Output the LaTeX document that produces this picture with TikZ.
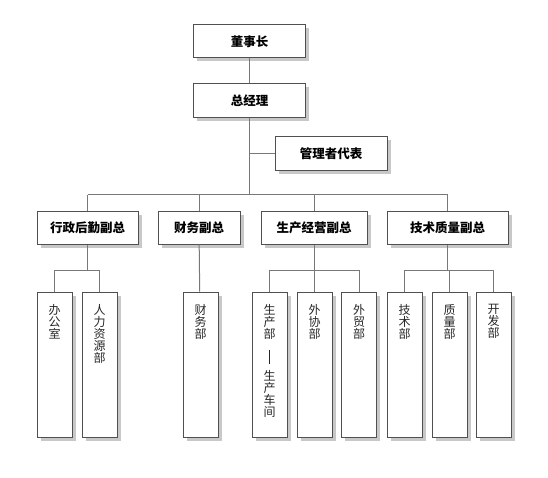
\documentclass[tikz,border=0pt]{standalone}
\usepackage{fontspec}
\newfontfamily\cjk{Noto Sans CJK SC}
\usetikzlibrary{shadows}
\definecolor{boxgray}{RGB}{80,80,80}
\definecolor{linegray}{RGB}{120,120,120}
\definecolor{shadowgray}{RGB}{200,200,200}
\newcommand{\vtext}[1]{\parbox[t][145pt][t]{35pt}{\vspace*{12pt}\centering #1}}
\tikzset{
	post/.style={draw=boxgray, fill=white, line width=1pt, inner sep=0, minimum height=33,
		font=\cjk\bfseries\fontsize{12.5}{14}\selectfont,
		drop shadow={shadow xshift=3.5pt, shadow yshift=-3.5pt, fill=shadowgray, opacity=1}},
	dept/.style={draw=boxgray, fill=white, line width=1pt, inner sep=0, minimum width=35,
		text=black!85, font=\cjk\fontsize{12}{12}\selectfont,
		drop shadow={shadow xshift=3.5pt, shadow yshift=-3.5pt, fill=shadowgray, opacity=1}},
	link/.style={draw=linegray, line width=1pt}
}
\begin{document}
\begin{tikzpicture}[x=1pt,y=-1pt]
	\useasboundingbox (0,0) rectangle (548,478);
	
	%top---------------------------------------
		\node[post, minimum width=112] (dsz) at (249.5,41.5) {董事长}; %chairman
		\node[post, minimum width=112, minimum height=34] (zjl) at (249.5,101) {总经理}; %general manager
		\node[post, minimum width=112, minimum height=34] (glz) at (331,154) {管理者代表}; %representative
		
		%lines
		\coordinate (bus) at (zjl.south |- 0,195);
		\draw[link] (dsz) -- (zjl);
		\draw[link] (zjl) -- (bus);
		\draw[link] (zjl.south |- glz.west) -- (glz.west);
	
	%vice presidents----------------------------
		\node[post, minimum width=101, minimum height=32] (xz) at (87.5,228) {行政后勤副总};
		\node[post, minimum width=82, minimum height=32] (cw) at (199,228) {财务副总};
		\node[post, minimum width=106, minimum height=32] (sc) at (314,228) {生产经营副总};
		\node[post, minimum width=121, minimum height=32] (js) at (447.5,228) {技术质量副总};
		
		%lines
		\draw[link] (xz.north |- bus) -- (js.north |- bus); %bus
		\foreach \v in {xz,cw,sc,js}
			\draw[link] (\v.north |- bus) -- (\v.north);
	
	%departments--------------------------------
		\node[dept] (bgs) at (54.5,364.5) {\vtext{办\\公\\室}};
		\node[dept] (rl) at (99.5,364.5) {\vtext{人\\力\\资\\源\\部}};
		\node[dept] (cwb) at (200.5,364.5) {\vtext{财\\务\\部}};
		\node[dept] (scb) at (269.5,364.5) {\vtext{生\\产\\部\\[10pt]\rule{0.8pt}{14pt}\\[4pt]生\\产\\车\\间}};
		\node[dept] (wx) at (314.5,364.5) {\vtext{外\\协\\部}};
		\node[dept] (wm) at (359,364.5) {\vtext{外\\贸\\部}};
		\node[dept] (jsb) at (404.5,364.5) {\vtext{技\\术\\部}};
		\node[dept] (zl) at (449.5,364.5) {\vtext{质\\量\\部}};
		\node[dept] (kf) at (493.5,364.5) {\vtext{开\\发\\部}};
		
		%lines
		\coordinate (xzd) at (xz.south |- 0,270);
		\coordinate (scd) at (sc.south |- 0,270);
		\coordinate (jsd) at (js.south |- 0,270);
		\draw[link] (xz) -- (xzd);
		\draw[link] (bgs.north) |- (xzd);
		\draw[link] (rl.north) |- (xzd);
		\draw[link] (cw) -- (cwb);
		\draw[link] (sc) -- (scd);
		\draw[link] (scb.north) |- (scd);
		\draw[link] (wm.north) |- (scd);
		\draw[link] (wx.north) -- (wx.north |- scd);
		\draw[link] (js) -- (jsd);
		\draw[link] (jsb.north) |- (jsd);
		\draw[link] (kf.north) |- (jsd);
		\draw[link] (zl.north) -- (zl.north |- jsd);
\end{tikzpicture}
\end{document}
